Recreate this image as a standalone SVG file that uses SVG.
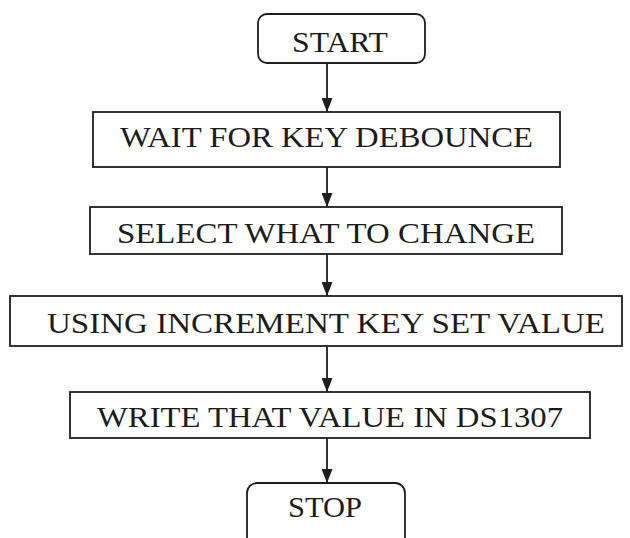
<svg xmlns="http://www.w3.org/2000/svg" width="630" height="538" viewBox="0 0 630 538">
  <style>
    .box { fill: #ffffff; stroke: #1e1e1e; stroke-width: 1.8; }
    .label { font-family: "Liberation Serif", "Times New Roman", serif; font-size: 30px; fill: #1c1c1c; }
    .flow { stroke: #1e1e1e; stroke-width: 1.8; fill: none; marker-end: url(#arrow); }
  </style>
  <defs>
    <!-- solid triangular head, tip at the end of the line -->
    <marker id="arrow" markerUnits="userSpaceOnUse" markerWidth="14" markerHeight="11" viewBox="0 0 14 11" refX="14" refY="5.5" orient="auto">
      <path d="M0,0 L14,5.5 L0,11 Z" fill="#1e1e1e"/>
    </marker>
  </defs>
  <rect width="630" height="538" fill="#ffffff"/>

  <g id="connectors">
    <line class="flow" x1="327" y1="63" x2="327" y2="112"/>
    <line class="flow" x1="327" y1="167" x2="327" y2="207"/>
    <line class="flow" x1="327" y1="254" x2="327" y2="296"/>
    <line class="flow" x1="327" y1="346" x2="327" y2="392"/>
    <line class="flow" x1="327" y1="438" x2="327" y2="483"/>
  </g>

  <g id="start">
    <rect class="box" x="258" y="14" width="167" height="49" rx="9"/>
    <text class="label" x="292" y="52" textLength="96" lengthAdjust="spacingAndGlyphs">START</text>
  </g>

  <g id="wait-debounce">
    <rect class="box" x="93" y="112" width="467" height="55"/>
    <text class="label" x="120" y="147" textLength="413" lengthAdjust="spacingAndGlyphs">WAIT FOR KEY DEBOUNCE</text>
  </g>

  <g id="select-field">
    <rect class="box" x="90" y="207" width="472" height="47"/>
    <text class="label" x="117" y="243" textLength="418" lengthAdjust="spacingAndGlyphs">SELECT WHAT TO CHANGE</text>
  </g>

  <g id="set-value">
    <rect class="box" x="10" y="296" width="612" height="50"/>
    <text class="label" x="47" y="333" textLength="558" lengthAdjust="spacingAndGlyphs">USING INCREMENT KEY SET VALUE</text>
  </g>

  <g id="write-rtc">
    <rect class="box" x="70" y="392" width="520" height="46"/>
    <text class="label" x="97" y="427" textLength="466" lengthAdjust="spacingAndGlyphs">WRITE THAT VALUE IN DS1307</text>
  </g>

  <g id="stop">
    <rect class="box" x="247" y="483" width="158" height="70" rx="10"/>
    <text class="label" x="288" y="517" textLength="74" lengthAdjust="spacingAndGlyphs">STOP</text>
  </g>
</svg>
